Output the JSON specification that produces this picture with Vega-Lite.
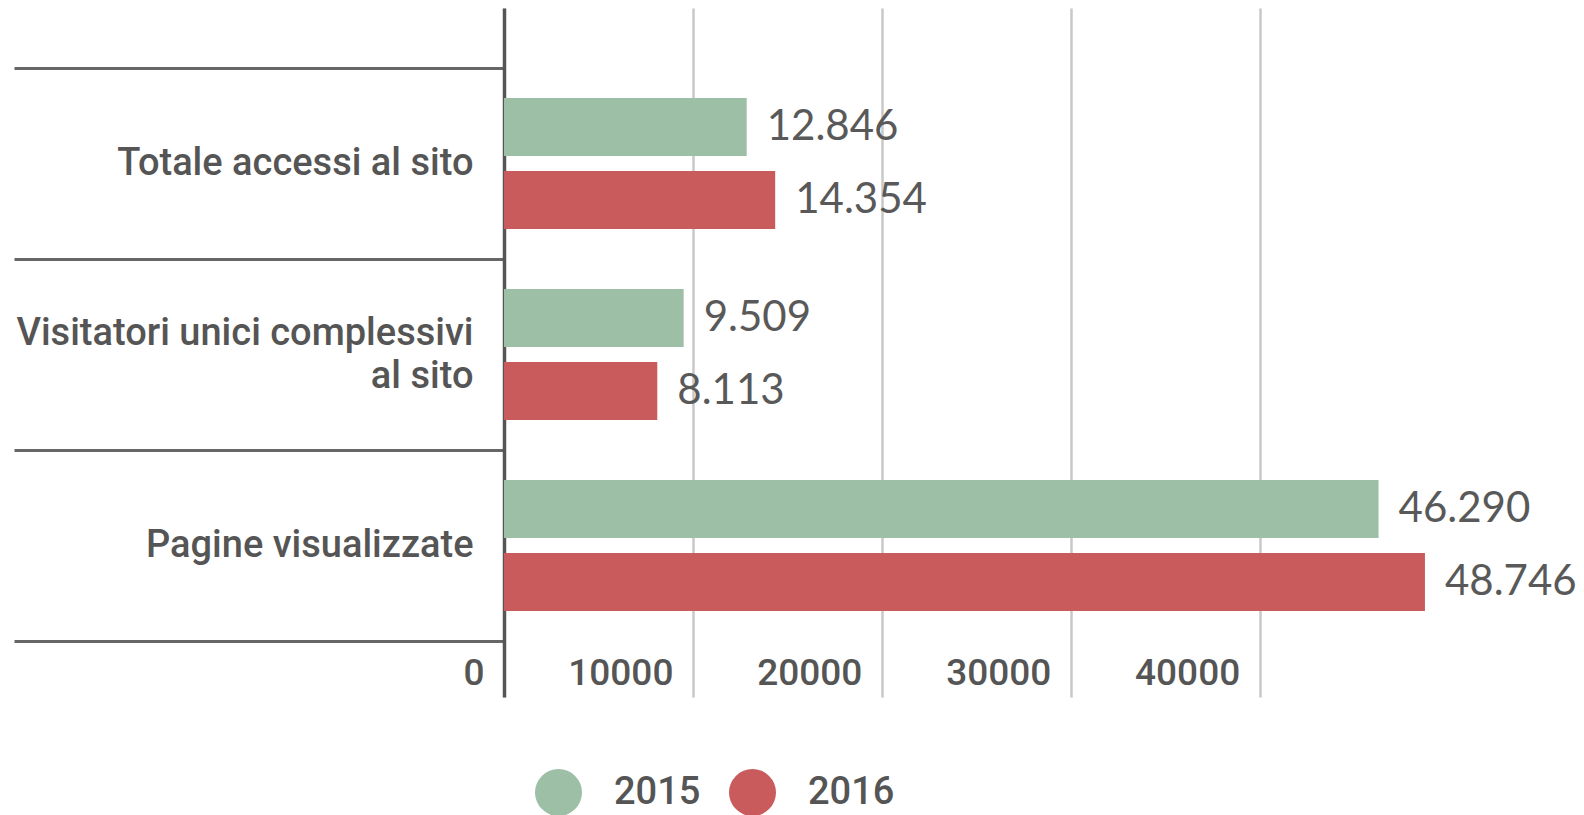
{
  "$schema": "https://vega.github.io/schema/vega-lite/v6.json",
  "width": 1058,
  "height": 689,
  "autosize": {"type": "none"},
  "padding": {"left": 504, "top": 8, "right": 22, "bottom": 118},
  "background": "#ffffff",
  "config": {
    "locale": {"number": {"decimal": ",", "thousands": ".", "grouping": [3], "currency": ["€", ""]}},
    "view": {"stroke": null}
  },
  "data": {
    "values": [
      {"categoria": "Totale accessi al sito", "anno": "2015", "valore": 12846},
      {"categoria": "Totale accessi al sito", "anno": "2016", "valore": 14354},
      {"categoria": "Visitatori unici complessivi al sito", "anno": "2015", "valore": 9509},
      {"categoria": "Visitatori unici complessivi al sito", "anno": "2016", "valore": 8113},
      {"categoria": "Pagine visualizzate", "anno": "2015", "valore": 46290},
      {"categoria": "Pagine visualizzate", "anno": "2016", "valore": 48746}
    ]
  },
  "encoding": {
    "y": {
      "field": "categoria",
      "type": "nominal",
      "sort": ["Totale accessi al sito", "Visitatori unici complessivi al sito", "Pagine visualizzate"],
      "scale": {"paddingInner": 0, "paddingOuter": 0.304, "align": 0.517},
      "axis": {
        "title": null,
        "tickBand": "extent",
        "tickSize": 490,
        "tickWidth": 3,
        "tickColor": "#666666",
        "domainColor": "#555555",
        "domainWidth": 3.5,
        "labelPadding": -459,
        "labelFont": "Roboto",
        "labelFontSize": 38,
        "labelFontWeight": 500,
        "labelColor": "#555555",
        "labelLimit": 0,
        "labelLineHeight": 43,
        "labelOffset": {"condition": {"test": "datum.value == 'Visitatori unici complessivi al sito'", "value": -21}, "value": 0},
        "labelExpr": "datum.value == 'Visitatori unici complessivi al sito' ? ['Visitatori unici complessivi', 'al sito'] : datum.value"
      }
    },
    "x": {
      "field": "valore",
      "type": "quantitative",
      "scale": {"domain": [0, 56000], "nice": false},
      "axis": {
        "title": null,
        "values": [0, 10000, 20000, 30000, 40000],
        "format": "d",
        "grid": true,
        "gridColor": "#c8c8c8",
        "gridWidth": 2.5,
        "domain": false,
        "ticks": false,
        "tickSize": 0,
        "labelAlign": "right",
        "labelOffset": -20,
        "labelBaseline": "middle",
        "labelPadding": -24,
        "labelFont": "Roboto",
        "labelFontSize": 37,
        "labelFontWeight": 500,
        "labelColor": "#555555",
        "labelFlush": false,
        "labelOverlap": false
      }
    },
    "yOffset": {
      "field": "anno",
      "type": "nominal",
      "scale": {"paddingInner": 0.2055, "paddingOuter": 0.411}
    }
  },
  "layer": [
    {
      "mark": {"type": "bar"},
      "encoding": {
        "color": {
          "field": "anno",
          "type": "nominal",
          "scale": {"domain": ["2015", "2016"], "range": ["#9cbfa6", "#c95b5c"]},
          "legend": {
            "title": null,
            "orient": "none",
            "direction": "horizontal",
            "legendX": 31,
            "legendY": 761,
            "symbolType": "circle",
            "symbolSize": 2209,
            "symbolStrokeWidth": 0,
            "symbolOpacity": 1,
            "labelFont": "Roboto",
            "labelFontSize": 38,
            "labelFontWeight": 500,
            "labelColor": "#555555",
            "labelOffset": 32,
            "columnPadding": 28
          }
        }
      }
    },
    {
      "mark": {"type": "text", "align": "left", "baseline": "middle", "dx": 20, "font": "Lato", "fontSize": 42, "fill": "#595959"},
      "encoding": {
        "text": {"field": "valore", "type": "quantitative", "format": ",d"}
      }
    }
  ]
}
